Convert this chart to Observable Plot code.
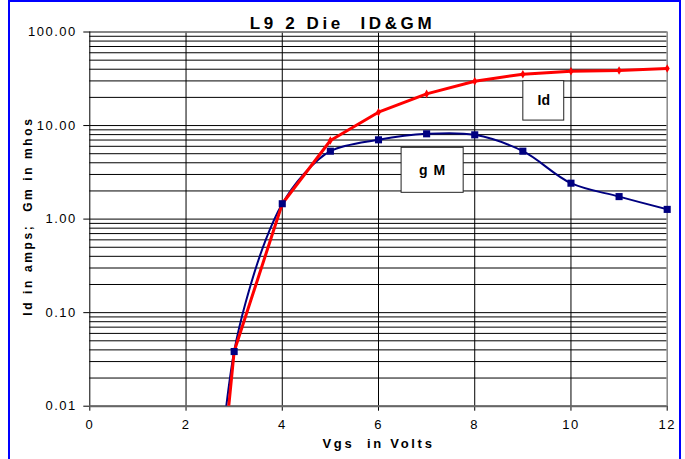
<!DOCTYPE html>
<html><head><meta charset="utf-8">
<script src="https://cdn.jsdelivr.net/npm/d3@7"></script>
<script src="https://cdn.jsdelivr.net/npm/@observablehq/plot@0.6"></script>
<style>
html,body{margin:0;padding:0;background:#fff;overflow:hidden;}
#wrap{position:relative;width:685px;height:459px;font-family:Arial,"Liberation Sans",sans-serif;}
#chart{position:absolute;left:0;top:0;}
#border{position:absolute;left:8px;top:0;width:669px;height:470px;border:2px solid #0000ff;border-bottom:none;pointer-events:none;}
#title{position:absolute;top:14px;left:0;width:685px;text-align:center;font:bold 17px Arial,"Liberation Sans",sans-serif;letter-spacing:3.6px;line-height:20px;white-space:pre;color:#000;}
</style></head><body>
<div id="wrap"><div id="chart"></div><div id="border"></div><div id="title"></div></div>
<script>
// ---- data ----
const titleText = "L9 2 Die  ID&GM";
const xLabel = "Vgs  in Volts";
const yLabel = "Id in amps;  Gm in mhos";
const xTicks = [0, 2, 4, 6, 8, 10, 12];
const yTicks = [0.01, 0.1, 1, 10, 100];
const idVgs = [2.8, 3, 4, 5, 6, 7, 8, 9, 10, 11, 12];
const idValues = [0.0035, 0.0384, 1.46, 6.92, 13.9, 21.8, 29.8, 35.4, 38.1, 38.8, 40.7];
const gmVgs = [2.8, 3, 3.24, 3.65, 4, 4.42, 5, 6, 7, 8, 9, 10, 11, 12];
const gmValues = [0.007, 0.0384, 0.129, 0.59, 1.46, 2.92, 5.32, 7.04, 8.16, 7.96, 5.32, 2.42, 1.74, 1.27];
const seriesNames = ["Id", "g M"];

// ---- build ----
document.getElementById("title").textContent = titleText;
const idData = idVgs.map((x, i) => ({x, y: idValues[i]}));
const gmData = gmVgs.map((x, i) => ({x, y: gmValues[i]}));
const idMarks = idData.filter(d => Number.isInteger(d.x));
const gmMarks = gmData.filter(d => Number.isInteger(d.x));
const minorGrid = [];
for (let e = -2; e < 2; e++) for (let m = 1; m <= 9; m++) minorGrid.push(m * Math.pow(10, e));
minorGrid.push(100);
const xGrid = xTicks.filter(t => t > 0 && t < 12);
// legend boxes (annotation placement in data space)
const boxes = [
  {name: seriesNames[0], x1: 9.01, x2: 9.86, y1: 11.3, y2: 29.8},
  {name: seriesNames[1], x1: 6.48, x2: 7.77, y1: 1.91, y2: 5.78}
];

const chart = Plot.plot({
  width: 685, height: 459,
  marginTop: 31.5, marginBottom: 53.3, marginLeft: 89.3, marginRight: 18.3,
  style: {fontFamily: "Arial, 'Liberation Sans', sans-serif", fontSize: "13px", background: "white", color: "black", overflow: "visible"},
  x: {domain: [0, 12], label: null},
  y: {type: "log", domain: [0.01, 100], label: null},
  marks: [
    Plot.ruleY(minorGrid, {stroke: "#000", strokeWidth: 1}),
    Plot.ruleX(xGrid, {stroke: "#000", strokeWidth: 1}),
    Plot.ruleY([100], {stroke: "#888", strokeWidth: 1.5}),
    Plot.ruleX([12], {stroke: "#888", strokeWidth: 1.5}),
    Plot.ruleX([0], {stroke: "#000", strokeWidth: 1}),
    Plot.axisX({ticks: xTicks, tickFormat: d => String(d), tickSize: 5, tickPadding: 9, fontSize: 13, label: null}),
    Plot.axisY({ticks: yTicks, tickFormat: d3.format(".2f"), tickSize: 6, tickPadding: 7, fontSize: 13, label: null}),
    Plot.ruleY([0.01], {stroke: "#666", strokeWidth: 2}),
    Plot.rect(boxes, {x1: "x1", x2: "x2", y1: "y1", y2: "y2", fill: "white", stroke: "#222", strokeWidth: 1}),
    Plot.text(boxes, {x: d => (d.x1 + d.x2) / 2, y: d => Math.sqrt(d.y1 * d.y2), text: "name", fontWeight: "bold", fontSize: 14}),
    Plot.line(gmData, {x: "x", y: "y", curve: "catmull-rom", stroke: "#000080", strokeWidth: 2, clip: true}),
    Plot.line(idData, {x: "x", y: "y", stroke: "#ff0000", strokeWidth: 3, clip: true}),
    Plot.dot(idMarks, {x: "x", y: "y", symbol: "diamond", r: 2.6, fill: "#ff0000", stroke: "none"}),
    Plot.dot(gmMarks, {x: "x", y: "y", symbol: "square", r: 4, fill: "#000080", stroke: "none"}),
    Plot.text([yLabel], {frameAnchor: "left", textAnchor: "middle", lineAnchor: "middle", text: d => d, rotate: -90, dx: -62, dy: -3, fontWeight: "bold", fontSize: 12}),
    Plot.text([xLabel], {frameAnchor: "bottom", textAnchor: "middle", text: d => d, dy: 42, fontWeight: "bold", fontSize: 13})
  ]
});
const svg = d3.select(chart);
svg.selectAll("text").each(function() {
  const t = this.textContent;
  if (t === yLabel) d3.select(this).attr("letter-spacing", "2.6px").style("white-space", "pre");
  else if (t === xLabel) d3.select(this).attr("letter-spacing", "2.7px").style("white-space", "pre");
  else if (t === seriesNames[1]) d3.select(this).attr("letter-spacing", "1px");
});
svg.selectAll("[aria-label='y-axis tick label'] text, [aria-label='x-axis tick label'] text").attr("letter-spacing", "1.5px");
document.getElementById("chart").appendChild(chart);
</script>
</body></html>
